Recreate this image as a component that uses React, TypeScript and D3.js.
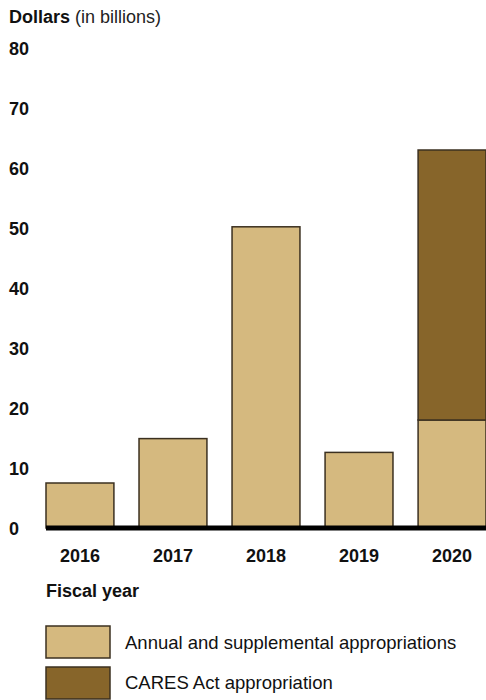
import React from "react";
import * as d3 from "d3";

const years = ["2016", "2017", "2018", "2019", "2020"];
const annual = [7.5, 14.9, 50.2, 12.6, 18.0];
const cares = [0, 0, 0, 0, 45.0];
const yTicks = [0, 10, 20, 30, 40, 50, 60, 70, 80];
const seriesNames = ["Annual and supplemental appropriations", "CARES Act appropriation"];
const colors = ["#d5b97f", "#87652a"];

export default function App() {
  const W = 486, H = 700;
  const x = d3.scaleBand<string>().domain(years).range([46, 486]).paddingInner(0.27).paddingOuter(0);
  const y = d3.scaleLinear().domain([0, 80]).range([528, 48]);
  const font = "'Liberation Sans', Arial, sans-serif";
  const stroke = "#3b3020";
  return (
    <svg width={W} height={H} style={{ position: "absolute", left: 0, top: 0 }} fontFamily={font}>
      <rect width={W} height={H} fill="#fff" />
      <text x={9} y={23} fontSize={18} fill="#111">
        <tspan fontWeight="bold">Dollars</tspan>
        <tspan fill="#222"> (in billions)</tspan>
      </text>
      {yTicks.map((t) => (
        <text key={t} x={9} y={y(t) + 1} dy="0.35em" fontSize={18} fontWeight="bold" fill="#111">
          {t}
        </text>
      ))}
      {years.map((yr, i) => {
        const x0 = x(yr)!;
        const bw = x.bandwidth();
        return (
          <g key={yr}>
            <rect x={x0} y={y(annual[i])} width={bw} height={y(0) - y(annual[i])} fill={colors[0]} stroke={stroke} strokeWidth={1.5} />
            {cares[i] > 0 && (
              <rect x={x0} y={y(annual[i] + cares[i])} width={bw} height={y(annual[i]) - y(annual[i] + cares[i])} fill={colors[1]} stroke={stroke} strokeWidth={1.5} />
            )}
            <text x={x0 + bw / 2} y={556} dy="0.35em" textAnchor="middle" fontSize={18} fontWeight="bold" fill="#111">
              {yr}
            </text>
          </g>
        );
      })}
      <line x1={46} x2={486} y1={y(0)} y2={y(0)} stroke="#000" strokeWidth={5} />
      <text x={46} y={591} dy="0.35em" fontSize={18} fontWeight="bold" fill="#111">Fiscal year</text>
      {seriesNames.map((s, i) => (
        <g key={s}>
          <rect x={46} y={626 + i * 41} width={64} height={32} fill={colors[i]} stroke={stroke} strokeWidth={1.5} />
          <text x={125} y={643 + i * 40} dy="0.35em" fontSize={18.5} fill="#111">{s}</text>
        </g>
      ))}
    </svg>
  );
}
